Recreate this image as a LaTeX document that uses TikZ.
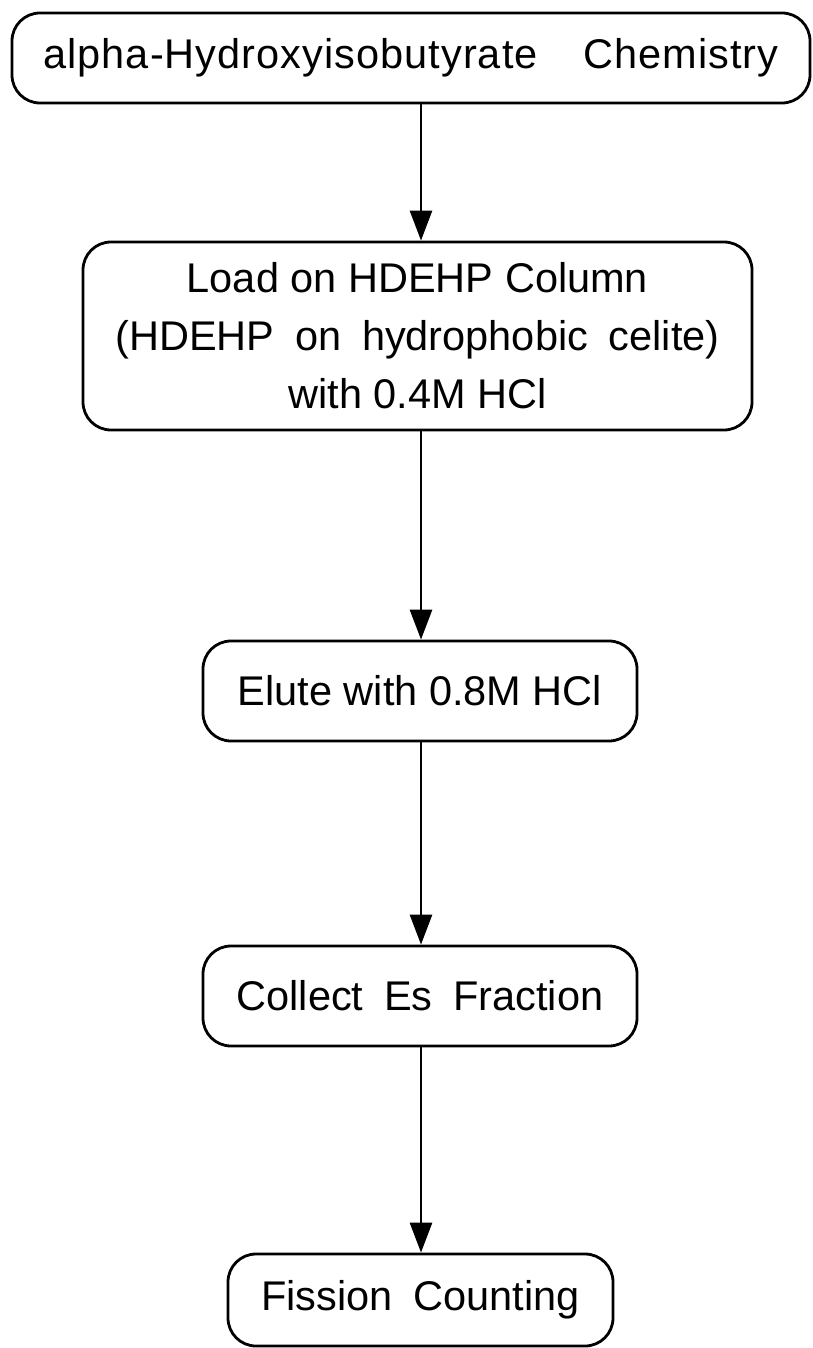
\documentclass[tikz,border=0pt]{standalone}
\usepackage{fontspec}
\setmainfont{Liberation Sans}
\usetikzlibrary{arrows.meta}
\begin{document}
\begin{tikzpicture}[x=1pt,y=-1pt,
  stepbox/.style={draw, line width=2.8pt, rounded corners=28pt, align=center,
    inner sep=0pt, font=\fontsize{41.5}{58}\selectfont},
  flow/.style={draw, line width=2.8pt, -{Triangle[length=30pt,width=22pt]}}]
  \useasboundingbox (0,0) rectangle (812,1348);

  \node[stepbox, minimum width=798pt, minimum height=90pt] (b1) at (411,58)
    {\addfontfeatures{LetterSpace=2.5}alpha-Hydroxyisobutyrate\hspace{1.1em}Chemistry};
  \node[stepbox, minimum width=669pt, minimum height=188pt] (b2) at (417.5,336)
    {Load on HDEHP Column\\(HDEHP\hspace{0.5em}on\hspace{0.5em}hydrophobic\hspace{0.5em}celite)\\with 0.4M HCl};
  \node[stepbox, minimum width=434pt, minimum height=100pt] (b3) at (420,691)
    {Elute with 0.8M HCl};
  \node[stepbox, minimum width=434pt, minimum height=100pt] (b4) at (420,996)
    {Collect\hspace{0.5em}Es\hspace{0.5em}Fraction};
  \node[stepbox, minimum width=385pt, minimum height=92pt] (b5) at (420.5,1300)
    {Fission\hspace{0.5em}Counting};

  \coordinate (ax) at (421,0);
  \draw[flow] (b1.south -| ax) -- (b2.north -| ax);
  \draw[flow] (b2.south -| ax) -- (b3.north -| ax);
  \draw[flow] (b3.south -| ax) -- (b4.north -| ax);
  \draw[flow] (b4.south -| ax) -- (b5.north -| ax);
\end{tikzpicture}
\end{document}
